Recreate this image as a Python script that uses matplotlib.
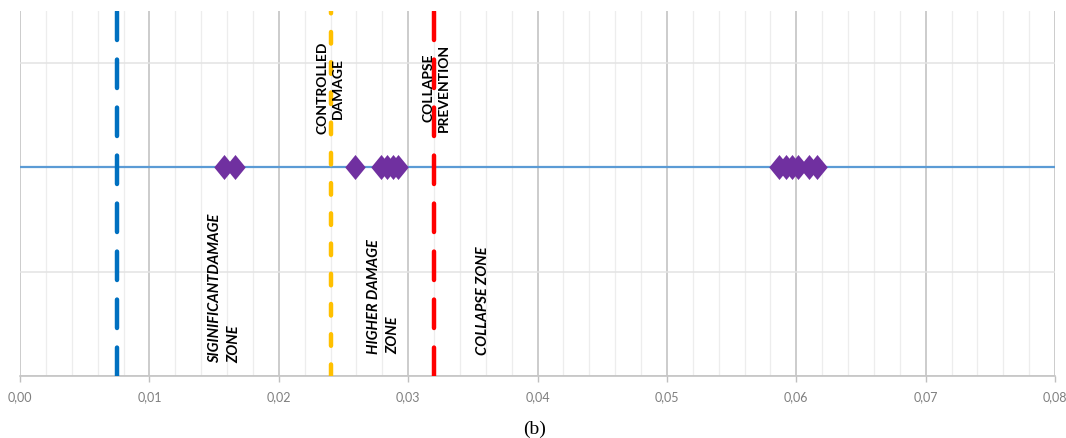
import matplotlib.pyplot as plt
from matplotlib.path import Path
from matplotlib.ticker import MultipleLocator

# drift values (diamonds), all sitting on the same level line
drifts = [0.0158, 0.0166, 0.0259, 0.0279, 0.0284, 0.0288, 0.0292,
          0.0587, 0.0592, 0.0597, 0.0601, 0.0610, 0.0616]
level = 2

# limit states: x position, colour
limit_x = [0.0075, 0.024, 0.032]
limit_colors = ['#0070C0', '#FFC000', '#FF0000']

# zone labels
top_labels = ['CONTROLLED\nDAMAGE', 'COLLAPSE\nPREVENTION']
top_x = [0.0240, 0.0322]
zone_labels = ['SIGINIFICANTDAMAGE\nZONE', 'HIGHER DAMAGE\nZONE', 'COLLAPSE ZONE']
zone_x = [0.0158, 0.0281, 0.0358]
zone_y = [0.12, 0.21, 0.20]

xticks = [0.00, 0.01, 0.02, 0.03, 0.04, 0.05, 0.06, 0.07, 0.08]

plt.rcParams['font.family'] = ['Lato', 'DejaVu Sans']

fig = plt.figure(figsize=(10.66, 4.38), dpi=100)
ax = fig.add_axes([0.0188, 0.1416, 0.9709, 0.8334])
ax.set_xlim(0, 0.08)
ax.set_ylim(0, 3.5)

# grid
ax.xaxis.set_major_locator(MultipleLocator(0.01))
ax.xaxis.set_minor_locator(MultipleLocator(0.002))
ax.yaxis.set_major_locator(MultipleLocator(1))
ax.grid(which='major', axis='x', color='#BFBFBF', lw=1.1)
ax.grid(which='minor', axis='x', color='#EDEDED', lw=0.9)
ax.grid(which='major', axis='y', color='#E3E3E3', lw=1.1)
ax.set_axisbelow(True)

for s in ['top', 'right', 'left']:
    ax.spines[s].set_visible(False)
ax.spines['bottom'].set_color('#BFBFBF')
ax.spines['bottom'].set_linewidth(1.1)

ax.set_xticks(xticks)
ax.set_xticklabels([('%.2f' % v).replace('.', ',') for v in xticks])
ax.tick_params(axis='x', which='major', length=4, width=1, color='#BFBFBF',
               labelsize=9, labelcolor='#7F7F7F', pad=7)
ax.tick_params(axis='x', which='minor', length=0)
ax.tick_params(axis='y', left=False, labelleft=False)

# level line and diamonds (slightly taller than wide, like Excel's)
diamond = Path([(0, 1), (0.82, 0), (0, -1), (-0.82, 0), (0, 1)],
               [Path.MOVETO, Path.LINETO, Path.LINETO, Path.LINETO, Path.CLOSEPOLY])
ax.axhline(level, color='#5B9BD5', lw=1.6, zorder=2)
ax.plot(drifts, [level] * len(drifts), linestyle='none', marker=diamond,
        color='#7030A0', markersize=18, markeredgewidth=0, zorder=4)

# limit state lines
dash_styles = [(6.4, 4.4), (2.6, 4.2), (6.4, 4.4)]
for x, c, d in zip(limit_x, limit_colors, dash_styles):
    ax.plot([x, x], [0, 3.5], color=c, lw=3.2, dashes=d,
            dash_capstyle='round', zorder=3)

for t, x in zip(top_labels, top_x):
    ax.text(x, 2.76, t, rotation=90, ha='center', va='center',
            fontsize=10, fontweight='bold', color='black',
            multialignment='center', linespacing=1.35, zorder=5)

for t, x, y in zip(zone_labels, zone_x, zone_y):
    ax.text(x, y, t, rotation=90, ha='center', va='bottom',
            fontsize=10.5, fontweight='bold', style='italic', color='black',
            multialignment='left', linespacing=1.45, zorder=5)

fig.text(0.501, 0.0, '(b)', ha='center', va='bottom',
         fontsize=14, family='Liberation Serif')

fig.savefig('out.png', dpi=100)
